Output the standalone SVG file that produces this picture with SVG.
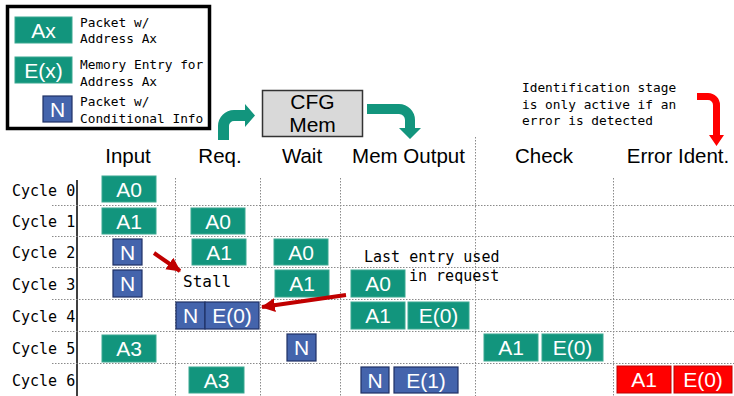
<svg xmlns="http://www.w3.org/2000/svg" width="734" height="396" viewBox="0 0 734 396">
<style>
.g{fill:#12957d;stroke:#3aa891;stroke-width:1}
.b{fill:#4464ac;stroke:#1f3064;stroke-width:1.2}
.r{fill:#ff0000;stroke:#c00000;stroke-width:1}
.bt{font-family:"Liberation Sans",Arial,sans-serif;font-size:21px;fill:#fff;text-anchor:middle}
.hd{font-family:"Liberation Sans",Arial,sans-serif;font-size:20.5px;fill:#000;text-anchor:middle}
.mono{font-family:"DejaVu Sans Mono","Liberation Mono",monospace;fill:#000}
.lg{font-size:12.8px}
.cy{font-size:15px}
.grid{stroke:#8a8a8a;stroke-width:1;stroke-dasharray:1.5 1.5;fill:none}
.ra{stroke:#c00000;stroke-width:4;fill:none}
</style>
<defs>
<marker id="ah" markerUnits="userSpaceOnUse" markerWidth="16" markerHeight="16" refX="13" refY="8" orient="auto">
<path d="M0,1 L14,8 L0,15 Z" fill="#c00000"/>
</marker>
</defs>
<rect width="734" height="396" fill="#fff"/>

<g id="legend">
<rect x="7.5" y="6.5" width="202" height="122" fill="#fff" stroke="#000" stroke-width="3.5"/>
<rect class="g" x="15" y="17" width="57" height="26"/>
<text class="bt" x="43.5" y="37.5">Ax</text>
<text class="mono lg" x="80" y="27">Packet w/</text>
<text class="mono lg" x="80" y="43">Address Ax</text>
<rect class="g" x="15" y="57" width="57" height="26"/>
<text class="bt" x="43.5" y="77.5">E(x)</text>
<text class="mono lg" x="80" y="69">Memory Entry for</text>
<text class="mono lg" x="80" y="86">Address Ax</text>
<rect class="b" x="43" y="96" width="29" height="26"/>
<text class="bt" x="57.5" y="116.5">N</text>
<text class="mono lg" x="80" y="106">Packet w/</text>
<text class="mono lg" x="80" y="123">Conditional Info</text>
</g>

<g id="cfgmem">
<rect x="262.5" y="90.5" width="100" height="46" fill="#d9d9d9" stroke="#333" stroke-width="1.5"/>
<text class="hd" x="312.5" y="109" style="font-size:21px">CFG</text>
<text class="hd" x="312.5" y="132" style="font-size:21px">Mem</text>
</g>

<g id="bent-arrows">
<path d="M218,140 L218,126 A16,16 0 0 1 234,110 L245,110 L245,104 L255,115.5 L245,127 L245,121 L234,121 A5,5 0 0 0 229,126 L229,140 Z" fill="#12957d"/>
<path d="M367,104 L399,104 A16,16 0 0 1 415,120 L415,128 L421,128 L410,139 L399,128 L405,128 L405,120 A6,6 0 0 0 399,114 L367,114 Z" fill="#12957d"/>
<path d="M697,93 L708,93 A12,12 0 0 1 720,105 L720,135 L724,135 L716.5,146 L709,135 L713,135 L713,105 A5,5 0 0 0 708,100 L697,100 Z" fill="#ff0000"/>
</g>

<g id="notes">
<text class="mono lg" x="522" y="92">Identification stage</text>
<text class="mono lg" x="522" y="109">is only active if an</text>
<text class="mono lg" x="522" y="125">error is detected</text>
</g>

<g id="headers">
<text class="hd" x="128" y="163">Input</text>
<text class="hd" x="220" y="163">Req.</text>
<text class="hd" x="302" y="163">Wait</text>
<text class="hd" x="408.5" y="163">Mem Output</text>
<text class="hd" x="544" y="163">Check</text>
<text class="hd" x="678" y="163">Error Ident.</text>
</g>

<g id="grid">
<line x1="77" y1="180" x2="77" y2="396" stroke="#000" stroke-width="1.5"/>
<path class="grid" d="M175.5,178V396M260.5,178V396M340.5,178V396M475.5,137V396M613.5,178V396"/>
<path class="grid" d="M52,205.5H734M52,236.5H734M52,267.5H734M52,299.5H734M52,331.5H734M52,363.5H734"/>
</g>

<g id="cycle-labels">
<text class="mono cy" x="12" y="196">Cycle 0</text>
<text class="mono cy" x="12" y="227">Cycle 1</text>
<text class="mono cy" x="12" y="258">Cycle 2</text>
<text class="mono cy" x="12" y="290">Cycle 3</text>
<text class="mono cy" x="12" y="322">Cycle 4</text>
<text class="mono cy" x="12" y="354">Cycle 5</text>
<text class="mono cy" x="12" y="386">Cycle 6</text>
</g>

<g id="row0">
<rect class="g" x="102" y="176" width="54" height="26"/><text class="bt" x="129" y="196.5">A0</text>
</g>
<g id="row1">
<rect class="g" x="102" y="208" width="54" height="26"/><text class="bt" x="129" y="228.5">A1</text>
<rect class="g" x="191" y="208" width="54" height="26"/><text class="bt" x="218" y="228.5">A0</text>
</g>
<g id="row2">
<rect class="b" x="113" y="239" width="29" height="26"/><text class="bt" x="127.5" y="259.5">N</text>
<rect class="g" x="192" y="239" width="54" height="26"/><text class="bt" x="219" y="259.5">A1</text>
<rect class="g" x="274" y="239" width="54" height="26"/><text class="bt" x="301" y="259.5">A0</text>
</g>
<g id="row3">
<rect class="b" x="113" y="270" width="29" height="27"/><text class="bt" x="127.5" y="291">N</text>
<text class="mono" x="183" y="287" style="font-size:16px">Stall</text>
<rect class="g" x="275" y="270" width="54" height="27"/><text class="bt" x="302" y="291">A1</text>
<rect class="g" x="351" y="270" width="54" height="27"/><text class="bt" x="378" y="291">A0</text>
<text class="mono cy" x="364" y="262">Last entry used</text>
<text class="mono cy" x="409" y="281">in request</text>
</g>
<g id="row4">
<rect class="b" x="176" y="302" width="29" height="27"/><text class="bt" x="190.5" y="323">N</text>
<rect class="b" x="205" y="302" width="54" height="27"/><text class="bt" x="232" y="323">E(0)</text>
<rect class="g" x="351" y="302" width="54" height="27"/><text class="bt" x="378" y="323">A1</text>
<rect class="g" x="408" y="302" width="61" height="27"/><text class="bt" x="438.5" y="323">E(0)</text>
</g>
<g id="row5">
<rect class="g" x="102" y="335" width="54" height="27"/><text class="bt" x="129" y="356">A3</text>
<rect class="b" x="287" y="334" width="29" height="27"/><text class="bt" x="301.5" y="355">N</text>
<rect class="g" x="484" y="334" width="54" height="27"/><text class="bt" x="511" y="355">A1</text>
<rect class="g" x="542" y="334" width="61" height="27"/><text class="bt" x="572.5" y="355">E(0)</text>
</g>
<g id="row6">
<rect class="g" x="189" y="367" width="55" height="26"/><text class="bt" x="216.5" y="387.5">A3</text>
<rect class="b" x="361" y="367" width="28" height="26"/><text class="bt" x="375" y="387.5">N</text>
<rect class="b" x="394" y="367" width="64" height="26"/><text class="bt" x="426" y="387.5">E(1)</text>
<rect class="r" x="617" y="366" width="54" height="27"/><text class="bt" x="644" y="387">A1</text>
<rect class="r" x="674" y="366" width="58" height="27"/><text class="bt" x="703" y="387">E(0)</text>
</g>

<g id="connectors">
<line class="ra" x1="154" y1="253" x2="180" y2="271" marker-end="url(#ah)"/>
<line class="ra" x1="346" y1="295" x2="262" y2="307" marker-end="url(#ah)"/>
</g>
</svg>
